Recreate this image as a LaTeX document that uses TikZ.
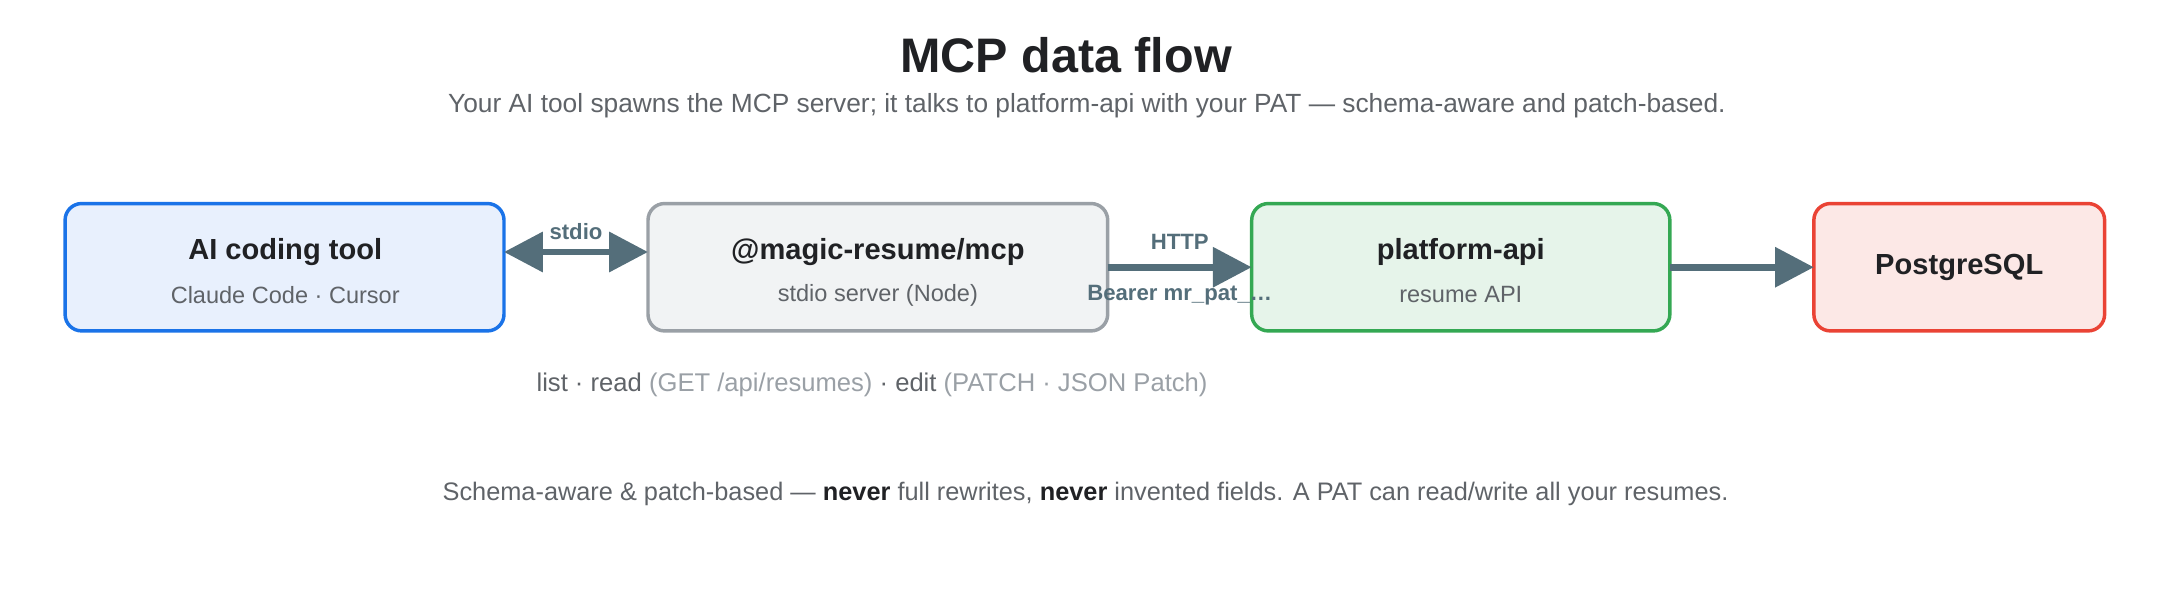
\documentclass[tikz,border=0pt]{standalone}
\usepackage{fontspec}
\setmainfont{Liberation Sans}
\usepackage{xcolor}
\usepackage{tikz}
\usetikzlibrary{arrows.meta,calc}
\definecolor{arrowc}{HTML}{546E7A}
\definecolor{txt}{HTML}{202124}
\definecolor{subtxt}{HTML}{5F6368}
\definecolor{lighttxt}{HTML}{9AA0A6}
\tikzset{
  box/.style={draw, rounded corners=12pt, line width=2.5pt, anchor=north west, outer sep=0pt},
  flow/.style={draw=arrowc, line width=5pt, -{Triangle[length=28pt,width=28pt]}},
  lbl/.style={text=arrowc, font=\fontsize{16}{18}\selectfont\bfseries},
  head/.style={text=txt, font=\fontsize{21}{25}\selectfont\bfseries},
  sub/.style={text=subtxt, font=\fontsize{17}{20}\selectfont},
}
\begin{document}
\begin{tikzpicture}[x=1pt,y=-1pt]
  % Page frame
  \useasboundingbox (0,0) rectangle (1560,433);
  % Headings
  \node[text=txt, font=\fontsize{35}{40}\selectfont\bfseries] (title) at (770,40) {MCP data flow};
  \node[text=subtxt, font=\fontsize{19}{22}\selectfont] (subtitle) at (785,76)
    {Your AI tool spawns the MCP server; it talks to platform-api with your PAT --- schema-aware and patch-based.};
  % Boxes
  \node[box, draw={rgb,255:red,26;green,115;blue,232}, fill={rgb,255:red,232;green,240;blue,253},
    minimum width=317pt, minimum height=92pt] (tool) at (47,147) {};
  \node[box, draw={rgb,255:red,154;green,160;blue,166}, fill={rgb,255:red,241;green,243;blue,244},
    minimum width=332pt, minimum height=92pt] (mcp) at (468,147) {};
  \node[box, draw={rgb,255:red,52;green,168;blue,83}, fill={rgb,255:red,230;green,244;blue,234},
    minimum width=302pt, minimum height=92pt] (api) at (904,147) {};
  \node[box, draw={rgb,255:red,234;green,67;blue,53}, fill={rgb,255:red,252;green,232;blue,230},
    minimum width=210pt, minimum height=92pt] (db) at (1310,147) {};
  % Box texts
  \node[head] (toolT) at (206,182) {AI coding tool};
  \node[sub] (toolS) at (206,213) {Claude Code · Cursor};
  \node[head] (mcpT) at (634,182) {@magic-resume/mcp};
  \node[sub] (mcpS) at (634,213) {stdio server (Node)};
  \node[head] (apiT) at (1055,182) {platform-api};
  \node[sub] (apiS) at (1055,213) {resume API};
  \node[head] (dbT) at (1415,193) {PostgreSQL};
  % Connectors
  \draw[flow, {Triangle[length=28pt,width=28pt]}-{Triangle[length=28pt,width=28pt]}]
    ($(tool.east)+(0,-11)$) -- node[lbl, above=3pt] {stdio} ($(mcp.west)+(0,-11)$);
  \draw[flow] (mcp.east) -- node[lbl, above=7pt] {HTTP} node[lbl, below=7pt] {Bearer mr\_pat\_\dots} (api.west);
  \draw[flow] (api.east) -- (db.west);
  % Operations and footer
  \node[anchor=west, font=\fontsize{18.5}{22}\selectfont, text=subtxt] (ops) at (384,278)
    {list · read \textcolor{lighttxt}{(GET /api/resumes)} · edit \textcolor{lighttxt}{(PATCH · JSON Patch)}};
  \node[font=\fontsize{18.3}{22}\selectfont, text=subtxt] (foot) at (784,357)
    {Schema-aware \& patch-based --- \textcolor{txt}{\textbf{never}} full rewrites, \textcolor{txt}{\textbf{never}} invented fields. A PAT can read/write all your resumes.};
\end{tikzpicture}
\end{document}
